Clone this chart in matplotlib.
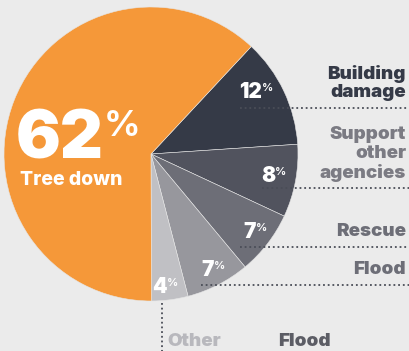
import matplotlib
matplotlib.use("Agg")
import matplotlib.pyplot as plt

# Call reasons, in clockwise order starting from the top-right
categories = ["Building damage", "Support other agencies", "Rescue", "Flood", "Other", "Tree down"]
shares = [12, 8, 7, 7, 4, 62]
slice_colors = ["#353a47", "#51535e", "#6d6e77", "#97979d", "#c0c0c4", "#f59839"]

W, H = 409, 351
BG = "#ebebeb"

plt.rcParams["font.family"] = ["Inter", "DejaVu Sans"]

fig = plt.figure(figsize=(W / 100, H / 100), dpi=100, facecolor=BG)
ax = fig.add_axes([0, 0, 1, 1])

def Y(py):
    # convert a top-down pixel row to data y
    return H - py

cx, cy, R = 151, Y(154), 147
ax.pie(shares, colors=slice_colors, startangle=47, counterclock=False,
       center=(cx, cy), radius=R, frame=True,
       wedgeprops=dict(linewidth=0.4, edgecolor="#e6e6e6"))
ax.set_xlim(0, W)
ax.set_ylim(0, H)
ax.set_aspect("equal")
ax.axis("off")

# leader rows for the right-hand labels
dot = dict(color="#4a4d57", linewidth=1.3, linestyle=(0, (1, 1.6)), zorder=3)
for x0, py in [(240, 108), (262, 188), (240, 247), (201, 285)]:
    ax.plot([x0, W], [Y(py), Y(py)], **dot)
ax.plot([162, 162], [Y(303), 0], **dot)

HEAVY = 900

# percentage labels on the slices: (number right edge x, centre row)
value_pos = [(262, 92), (275, 176), (256, 232), (214, 270), (167, 287)]
for (vx, vy), v in zip(value_pos, shares[:5]):
    ax.text(vx, Y(vy), f"{v}", color="white", fontsize=15, fontweight=HEAVY,
            ha="right", va="center", zorder=4)
    ax.text(vx, Y(vy - 4), "%", color="white", fontsize=8, fontweight="bold",
            ha="left", va="center", zorder=4)

# headline share of the largest slice
ax.text(104, Y(141), f"{shares[5]}", color="white", fontsize=48, fontweight=HEAVY,
        ha="right", va="center", zorder=4)
ax.text(104, Y(126), "%", color="white", fontsize=26, fontweight="bold",
        ha="left", va="center", zorder=4)
ax.text(20, Y(180), categories[5], color="white", fontsize=14, fontweight=800,
        ha="left", va="center", zorder=4)

# category names on the right
lab = dict(fontsize=13.5, fontweight=HEAVY, ha="right", va="center", linespacing=1.12)
ax.text(406, Y(83), "Building\ndamage", color="#353a47", **lab)
ax.text(406, Y(154), "Support\nother\nagencies", color="#7b7b83", **lab)
ax.text(406, Y(232), categories[2], color="#6d6e77", **lab)
ax.text(406, Y(270), categories[3], color="#6d6e77", **lab)
ax.text(167, Y(342), categories[4], color="#b8b8bd", fontsize=13.5, fontweight=HEAVY,
        ha="left", va="center")
ax.text(278, Y(341), "Flood", color="#5c5d65", fontsize=13.5, fontweight=HEAVY,
        ha="left", va="center")

fig.savefig("out.png", dpi=100, facecolor=BG)
